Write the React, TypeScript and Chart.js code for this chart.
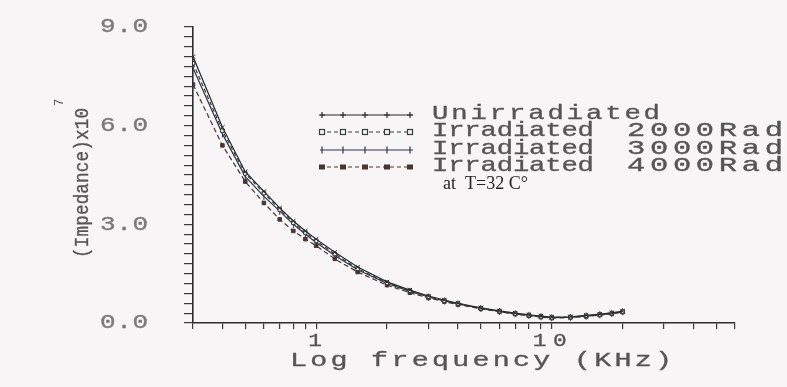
import React, { useEffect, useRef } from 'react';
import { Chart, registerables } from 'chart.js';

Chart.register(...registerables);

// ---- data (kHz on x, impedance x10^7 on y) ----
const frequencies = [0.3, 0.4, 0.5, 0.6, 0.7, 0.8, 0.9, 1, 1.2, 1.5, 2, 2.5, 3, 3.5, 4, 5, 6, 7, 8, 9, 10, 12, 14, 16, 18, 20];
const unirradiated = [8.1, 5.95, 4.6, 4.0, 3.5, 3.1, 2.8, 2.55, 2.15, 1.7, 1.25, 1.0, 0.82, 0.7, 0.6, 0.46, 0.37, 0.3, 0.25, 0.21, 0.18, 0.19, 0.23, 0.27, 0.31, 0.36];
const rad2000 = [7.9, 5.85, 4.55, 3.95, 3.45, 3.05, 2.75, 2.5, 2.1, 1.65, 1.22, 0.98, 0.8, 0.68, 0.59, 0.45, 0.36, 0.29, 0.24, 0.2, 0.17, 0.18, 0.22, 0.26, 0.3, 0.35];
const rad3000 = [7.75, 5.75, 4.45, 3.85, 3.4, 3.0, 2.7, 2.45, 2.05, 1.62, 1.2, 0.96, 0.79, 0.67, 0.58, 0.44, 0.35, 0.28, 0.23, 0.19, 0.16, 0.17, 0.21, 0.25, 0.29, 0.34];
const rad4000 = [7.25, 5.4, 4.3, 3.65, 3.15, 2.8, 2.55, 2.35, 1.95, 1.55, 1.15, 0.92, 0.76, 0.65, 0.56, 0.43, 0.34, 0.27, 0.22, 0.18, 0.15, 0.17, 0.2, 0.24, 0.28, 0.33];

const legendMain = ['Unirradiated', 'Irradiated', 'Irradiated', 'Irradiated'];
const legendDose = ['', '2000Rad', '3000Rad', '4000Rad'];
const noteText = 'at  T=32 C\u00B0';

const xTickValues = [0.3, 0.4, 0.5, 0.6, 0.7, 0.8, 0.9, 1, 2, 3, 4, 5, 6, 7, 8, 9, 10, 20, 30, 40, 50, 60];
const xLabelValues = [1, 10];
const xLabels = ['1', '10'];
const yLabelValues = [0, 3, 6, 9];
const yLabels = ['0.0', '3.0', '6.0', '9.0'];
const xTitle = 'Log frequency (KHz)';
const yTitle = '(Impedance)x10';
const yTitleSup = '7';

const lineColors = ['#2b2b2b', '#34413a', '#2f3646', '#4a3434'];
const BG = '#f7f5f6';
const TEXT = '#555555';
const MONO = '"Liberation Mono", "DejaVu Sans Mono", monospace';

function drawFit(ctx: CanvasRenderingContext2D, text: string, left: number, cy: number, width: number, font: string, color: string, stretch = 1) {
  ctx.save();
  ctx.font = font;
  ctx.fillStyle = color;
  ctx.strokeStyle = color;
  ctx.lineWidth = 0.35;
  ctx.textBaseline = 'middle';
  ctx.textAlign = 'left';
  ctx.translate(left, cy);
  ctx.scale(stretch, 1);
  const chars = Array.from(text);
  const ws = chars.map((c) => ctx.measureText(c).width);
  const total = ws.reduce((a, b) => a + b, 0);
  const sp = chars.length > 1 ? (width / stretch - total) / (chars.length - 1) : 0;
  let x = 0;
  chars.forEach((c, i) => {
    ctx.fillText(c, x, 0);
    ctx.strokeText(c, x, 0);
    x += ws[i] + sp;
  });
  ctx.restore();
}

function drawMarker(ctx: CanvasRenderingContext2D, kind: number, x: number, y: number, color: string) {
  ctx.save();
  ctx.strokeStyle = color;
  ctx.fillStyle = color;
  ctx.lineWidth = 1.2;
  if (kind === 0) {
    ctx.beginPath();
    ctx.moveTo(x - 3, y); ctx.lineTo(x + 3, y);
    ctx.moveTo(x, y - 3); ctx.lineTo(x, y + 3);
    ctx.stroke();
  } else if (kind === 1) {
    ctx.fillStyle = BG;
    ctx.fillRect(x - 2.5, y - 2.5, 5, 5);
    ctx.strokeRect(x - 2.5, y - 2.5, 5, 5);
  } else if (kind === 2) {
    ctx.beginPath();
    ctx.moveTo(x, y - 3.5); ctx.lineTo(x, y + 3.5);
    ctx.stroke();
  } else {
    ctx.fillRect(x - 3, y - 2.5, 6, 5);
  }
  ctx.restore();
}

const bgPlugin = {
  id: 'bg',
  beforeDraw(chart: any) {
    const { ctx, width, height } = chart;
    ctx.save();
    ctx.fillStyle = BG;
    ctx.fillRect(0, 0, width, height);
    ctx.restore();
  },
};

const textPlugin = {
  id: 'texts',
  afterDraw(chart: any) {
    const ctx: CanvasRenderingContext2D = chart.ctx;
    const xs = chart.scales.x;
    const ys = chart.scales.y;

    // y tick labels
    yLabelValues.forEach((v, i) => {
      const py = ys.getPixelForValue(v);
      drawFit(ctx, yLabels[i], ys.right - 93, py, 48, `20px ${MONO}`, '#7a7a7a', 1.3);
    });
    // x tick labels
    xLabelValues.forEach((v, i) => {
      const px = xs.getPixelForValue(v);
      const w = xLabels[i].length === 1 ? 12 : 34;
      drawFit(ctx, xLabels[i], px - w / 2 - 2, xs.top + 18, w, `19px ${MONO}`, TEXT, 1.2);
    });
    // x title
    drawFit(ctx, xTitle, 290, xs.top + 37, 382, `21px ${MONO}`, TEXT, 1.35);

    // y title (rotated)
    ctx.save();
    ctx.translate(83, 181);
    ctx.rotate(-Math.PI / 2);
    drawFit(ctx, yTitle, -77, 0, 150, `20px ${MONO}`, TEXT, 0.88);
    ctx.font = `12px ${MONO}`;
    ctx.fillStyle = TEXT;
    ctx.textBaseline = 'middle';
    ctx.fillText(yTitleSup, 75, -23);
    ctx.restore();

    // legend
    const rowY = [113, 130, 148, 165];
    const markX = [322, 343, 365, 387, 410];
    legendMain.forEach((label, i) => {
      const y = rowY[i];
      const col = lineColors[i];
      ctx.save();
      ctx.strokeStyle = col;
      ctx.lineWidth = 1.1;
      ctx.setLineDash(i === 1 || i === 3 ? [4, 3] : []);
      ctx.beginPath();
      ctx.moveTo(320, y + 2);
      ctx.lineTo(413, y + 2);
      ctx.stroke();
      ctx.restore();
      markX.forEach((mx) => drawMarker(ctx, i, mx, y + 2, col));
      drawFit(ctx, label, 432, y, i === 0 ? 228 : 162, `21px ${MONO}`, TEXT, 1.3);
      if (legendDose[i]) drawFit(ctx, legendDose[i], 627, y, 156, `21px ${MONO}`, TEXT, 1.45);
    });
    ctx.save();
    ctx.font = '18px "Liberation Serif", "Times New Roman", serif';
    ctx.fillStyle = '#262626';
    ctx.textBaseline = 'middle';
    ctx.fillText(noteText, 443, 184);
    ctx.restore();
  },
};

export default function App() {
  const ref = useRef<HTMLCanvasElement | null>(null);

  useEffect(() => {
    document.body.style.margin = '0';
    document.body.style.background = BG;
    if (!ref.current) return;
    const styles = [
      { dash: [], point: 'crossRot', radius: 3 },
      { dash: [4, 3], point: 'rect', radius: 2.5 },
      { dash: [], point: 'line', radius: 3.5 },
      { dash: [5, 3], point: 'rect', radius: 2.5 },
    ];
    const series = [unirradiated, rad2000, rad3000, rad4000];
    const chart = new Chart(ref.current, {
      type: 'line',
      data: {
        datasets: series.map((vals, i) => ({
          label: legendMain[i] + (legendDose[i] ? ' ' + legendDose[i] : ''),
          data: frequencies.map((f, j) => ({ x: f, y: vals[j] })),
          borderColor: lineColors[i],
          backgroundColor: i === 1 ? BG : lineColors[i],
          borderWidth: 1.2,
          borderDash: styles[i].dash,
          pointStyle: styles[i].point as any,
          pointRadius: styles[i].radius,
          pointRotation: i === 2 ? 90 : 0,
          pointBorderWidth: 1,
          pointBorderColor: lineColors[i],
          pointBackgroundColor: i === 1 ? BG : lineColors[i],
          tension: 0,
          fill: false,
        })),
      },
      options: {
        animation: false,
        responsive: false,
        maintainAspectRatio: false,
        layout: { padding: { left: 0, top: 27, right: 52, bottom: 0 } },
        plugins: {
          legend: { display: false },
          tooltip: { enabled: false },
          title: { display: false },
        },
        scales: {
          x: {
            type: 'logarithmic',
            min: 0.3,
            max: 60,
            afterBuildTicks: (scale: any) => {
              scale.ticks = xTickValues.map((v) => ({ value: v }));
            },
            afterFit: (scale: any) => {
              scale.height = 64;
            },
            ticks: { display: false },
            grid: { drawOnChartArea: false, drawTicks: true, tickLength: 6, color: '#3a3a3a', lineWidth: 1.2 },
            border: { display: true, color: '#2e2e2e', width: 1.6 },
          },
          y: {
            type: 'linear',
            min: 0,
            max: 9,
            ticks: { display: false, stepSize: 0.3 },
            afterFit: (scale: any) => {
              scale.width = 193;
            },
            grid: { drawOnChartArea: false, drawTicks: true, tickLength: 9, color: '#3a3a3a', lineWidth: 1.2 },
            border: { display: true, color: '#2e2e2e', width: 1.6 },
          },
        },
      },
      plugins: [bgPlugin, textPlugin],
    });
    return () => chart.destroy();
  }, []);

  return (
    <div style={{ position: 'absolute', left: 0, top: 0, width: 787, height: 387 }}>
      <canvas ref={ref} width={787} height={387} style={{ display: 'block' }} />
    </div>
  );
}
